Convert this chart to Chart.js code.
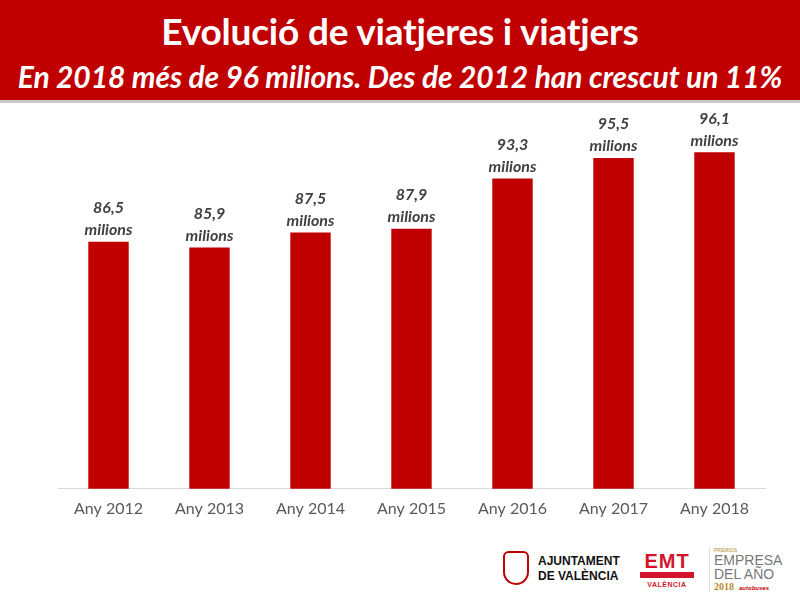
<!DOCTYPE html>
<html>
<head>
<meta charset="utf-8">
<script src="https://cdn.jsdelivr.net/npm/chart.js@4"></script>
<style>
    html, body { margin: 0; padding: 0; width: 800px; height: 600px; background: #fff; overflow: hidden; font-family: Lato, 'Open Sans', sans-serif; }
    .header { position: absolute; left: 0; top: 0; width: 800px; height: 100px; background: #c00000; color: #fff; text-align: center; border-bottom: 3px solid #c8c8c8; }
    .header h1 { margin: 0; position: absolute; top: 8px; width: 100%; font-size: 37px; font-weight: 700; letter-spacing: -0.2px; }
    .header h2 { margin: 0; position: absolute; top: 58px; width: 100%; font-size: 30px; font-weight: 700; font-style: italic; letter-spacing: -0.1px; }
    #chart-wrap { position: absolute; left: 0; top: 0; width: 800px; height: 520px; }
    .logos { position: absolute; top: 545px; left: 495px; width: 305px; height: 50px; font-family: 'Liberation Sans', Arial, sans-serif; }
    .crest { position: absolute; left: 8px; top: 6px; width: 26px; height: 34px; border: 2px solid #c00000; border-radius: 6px 6px 14px 14px; box-sizing: border-box; }
    .ajt { position: absolute; left: 43px; top: 9px; font-size: 12px; font-weight: 700; line-height: 15px; color: #111; }
    .emt { position: absolute; left: 145px; top: 7px; width: 54px; text-align: center; color: #d3152b; }
    .emt .big { font-size: 20px; font-weight: 900; line-height: 19px; letter-spacing: 1px; }
    .emt .bar { height: 6px; background: #d3152b; margin-top: 1px; }
    .emt .small { font-size: 7px; font-weight: 700; margin-top: 3px; letter-spacing: 0.5px; }
    .premio { position: absolute; left: 214px; top: 2px; color: #777; border-left: 1px solid #ddd; padding-left: 4px; }
    .premio .tiny { font-size: 5px; color: #b58a2a; line-height: 6px; }
    .premio .word { font-size: 14px; line-height: 14px; font-weight: 400; }
    .premio .yr { font-family: 'Liberation Serif', serif; font-size: 10px; color: #b58a2a; font-weight: 700; }
    .premio .yr span { color: #c00000; font-style: italic; font-size: 6px; font-family: 'Liberation Sans', sans-serif; margin-left: 5px; }
</style>
</head>
<body>
<div id="chart-wrap"><canvas id="viatgersChart"></canvas></div>
<div class="header">
    <h1>Evolució de viatjeres i viatjers</h1>
    <h2>En 2018 més de 96 milions. Des de 2012 han crescut un 11%</h2>
</div>
<div class="logos">
    <div class="crest"></div>
    <div class="ajt">AJUNTAMENT<br>DE VALÈNCIA</div>
    <div class="emt"><div class="big">EMT</div><div class="bar"></div><div class="small">VALÈNCIA</div></div>
    <div class="premio">
        <div class="tiny">PREMIOS</div>
        <div class="word">EMPRESA</div>
        <div class="word">DEL AÑO</div>
        <div class="yr">2018<span>autobuses</span></div>
    </div>
</div>
<script>
const years = ['Any 2012', 'Any 2013', 'Any 2014', 'Any 2015', 'Any 2016', 'Any 2017', 'Any 2018'];
const passengers = [86.5, 85.9, 87.5, 87.9, 93.3, 95.5, 96.1];
const unitLabel = 'milions';

// two-line labels above each bar: value with comma, then "milions"
const barLabels = {
    id: 'barLabels',
    afterDatasetsDraw(chart) {
        const ctx = chart.ctx;
        const meta = chart.getDatasetMeta(0);
        ctx.save();
        ctx.fillStyle = '#404040';
        ctx.font = 'italic bold 16px Lato, sans-serif';
        ctx.textAlign = 'center';
        ctx.textBaseline = 'middle';
        meta.data.forEach((bar, i) => {
            const txt = passengers[i].toFixed(1).replace('.', ',');
            ctx.fillText(txt, bar.x, bar.y - 34);
            ctx.fillText(unitLabel, bar.x, bar.y - 12);
        });
        ctx.restore();
    }
};

new Chart(document.getElementById('viatgersChart').getContext('2d'), {
    type: 'bar',
    data: {
        labels: years,
        datasets: [{
            data: passengers,
            backgroundColor: '#c00000',
            borderWidth: 0,
            barPercentage: 0.8,
            categoryPercentage: 0.5
        }]
    },
    options: {
        responsive: true,
        maintainAspectRatio: false,
        animation: false,
        layout: { padding: { left: 58, right: 35, top: 116, bottom: 0 } },
        plugins: { legend: { display: false }, tooltip: { enabled: false } },
        scales: {
            x: {
                grid: { display: false },
                border: { color: '#d9d9d9', width: 1 },
                ticks: { color: '#595959', font: { family: 'Lato, sans-serif', size: 16 }, padding: 2 }
            },
            y: { display: false, min: 60, max: 100 }
        }
    },
    plugins: [barLabels]
});
</script>
</body>
</html>
